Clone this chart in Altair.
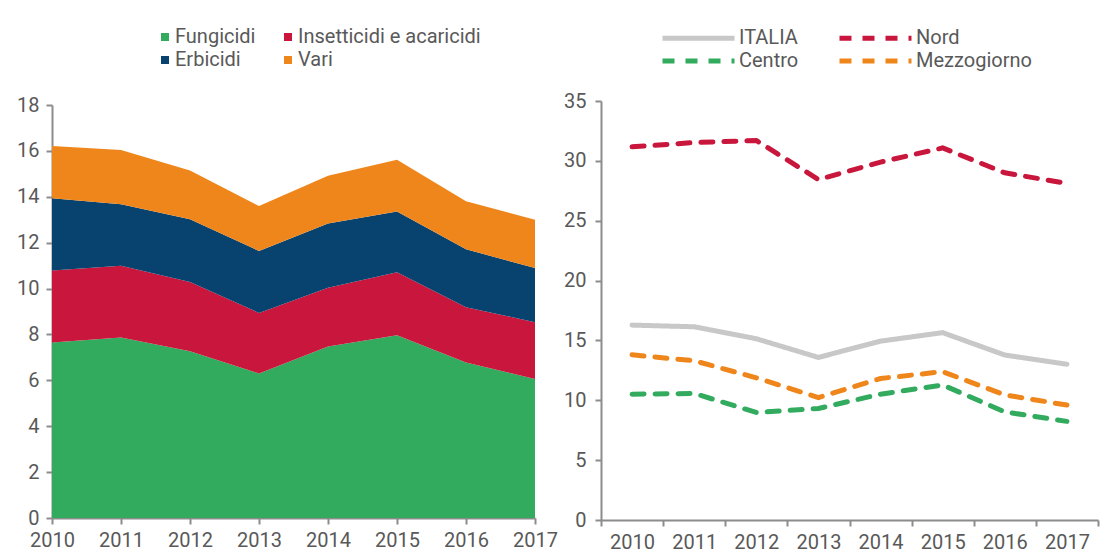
import altair as alt
import pandas as pd

years = [2010, 2011, 2012, 2013, 2014, 2015, 2016, 2017]

# Left chart: stacked components (stack order bottom -> top)
categorie = ["Fungicidi", "Insetticidi e acaricidi", "Erbicidi", "Vari"]
fungicidi = [7.65, 7.87, 7.27, 6.30, 7.47, 7.96, 6.78, 6.06]
insetticidi = [3.14, 3.12, 3.02, 2.64, 2.57, 2.75, 2.41, 2.47]
erbicidi = [3.15, 2.68, 2.73, 2.70, 2.79, 2.65, 2.52, 2.37]
vari = [2.27, 2.37, 2.12, 1.96, 2.09, 2.25, 2.09, 2.10]
# legend order (legend fills column by column)
legenda_cat = ["Fungicidi", "Erbicidi", "Insetticidi e acaricidi", "Vari"]
colori_cat = ["#33AB5F", "#08426F", "#C8163C", "#EF861B"]

# Right chart: regional lines
aree = ["ITALIA", "Nord", "Centro", "Mezzogiorno"]
italia = [16.28, 16.14, 15.14, 13.58, 14.94, 15.65, 13.78, 13.01]
nord = [31.17, 31.53, 31.70, 28.44, 29.90, 31.08, 29.00, 28.12]
centro = [10.51, 10.57, 8.98, 9.32, 10.51, 11.28, 9.03, 8.24]
mezzogiorno = [13.80, 13.30, 11.88, 10.23, 11.82, 12.39, 10.45, 9.60]
legenda_aree = ["ITALIA", "Centro", "Nord", "Mezzogiorno"]
colori_aree = ["#C8C8C8", "#33AB5F", "#C8163C", "#EF861B"]
tratti_aree = [[1, 0], [12, 11], [12, 11], [12, 11]]

rows1 = []
for i, (name, vals) in enumerate(zip(categorie, [fungicidi, insetticidi, erbicidi, vari])):
    for y, v in zip(years, vals):
        rows1.append({"Anno": y, "Valore": v, "Categoria": name, "ord": i})
df1 = pd.DataFrame(rows1)

rows2 = []
for name, vals in zip(aree, [italia, nord, centro, mezzogiorno]):
    for y, v in zip(years, vals):
        rows2.append({"Anno": str(y), "Valore": v, "Area": name})
df2 = pd.DataFrame(rows2)

label_color = "#595959"
axis_color = "#8C8C8C"
FS = 20

left = alt.Chart(df1).mark_area().encode(
    x=alt.X("Anno:Q",
            scale=alt.Scale(domain=[2010, 2017], nice=False, zero=False),
            axis=alt.Axis(values=years, format="d", title=None, grid=False, tickSize=6,
                          labelPadding=6, labelFlush=False, labelOverlap=False)),
    y=alt.Y("Valore:Q", stack="zero",
            scale=alt.Scale(domain=[0, 18], nice=False, range=[417, 4]),
            axis=alt.Axis(values=list(range(0, 19, 2)), title=None, grid=False, tickSize=6,
                          labelPadding=7)),
    color=alt.Color("Categoria:N",
                    scale=alt.Scale(domain=legenda_cat, range=colori_cat),
                    legend=alt.Legend(orient="none", legendX=103, legendY=-74, columns=2,
                                      title=None, symbolType="square", symbolSize=64,
                                      columnPadding=22, rowPadding=3, labelOffset=0,
                                      padding=0, labelLimit=400)),
    order=alt.Order("ord:Q"),
).properties(width=483, height=417)

leg_right = dict(orient="none", legendX=59, legendY=-75.5, columns=2, title=None,
                 symbolType="M-3.6,0H3.6", symbolSize=400, symbolStrokeWidth=5,
                 symbolOffset=26, columnPadding=30, rowPadding=0, labelOffset=28,
                 padding=0, labelLimit=400)

right = alt.Chart(df2).mark_line(strokeWidth=5, strokeCap="round").encode(
    x=alt.X("Anno:O", bandPosition=0.5,
            scale=alt.Scale(type="band", paddingInner=0, paddingOuter=0),
            axis=alt.Axis(title=None, labelAngle=0, tickBand="extent", tickSize=6,
                          labelPadding=6)),
    y=alt.Y("Valore:Q",
            scale=alt.Scale(domain=[0, 35], nice=False),
            axis=alt.Axis(values=list(range(0, 36, 5)), title=None, grid=False, tickSize=6,
                          labelPadding=9)),
    color=alt.Color("Area:N",
                    scale=alt.Scale(domain=legenda_aree, range=colori_aree),
                    legend=alt.Legend(**leg_right)),
    strokeDash=alt.StrokeDash("Area:N",
                              scale=alt.Scale(domain=legenda_aree, range=tratti_aree),
                              legend=alt.Legend(**leg_right)),
).properties(width=497, height=419)

chart = alt.hconcat(left, right, spacing=5).resolve_scale(
    color="independent", strokeDash="independent"
).resolve_legend(color="independent", strokeDash="independent").properties(
    padding={"left": 8, "top": 17, "right": 5, "bottom": 5}
).configure(
    font="Roboto"
).configure_axis(
    labelFont="Roboto", labelFontSize=FS, labelColor=label_color,
    domainColor=axis_color, tickColor=axis_color, domainWidth=2, tickWidth=2,
).configure_legend(
    labelFont="Roboto", labelFontSize=FS, labelColor=label_color,
).configure_view(stroke=None)

chart.save("out.html", embed_options={"renderer": "svg", "actions": False})
